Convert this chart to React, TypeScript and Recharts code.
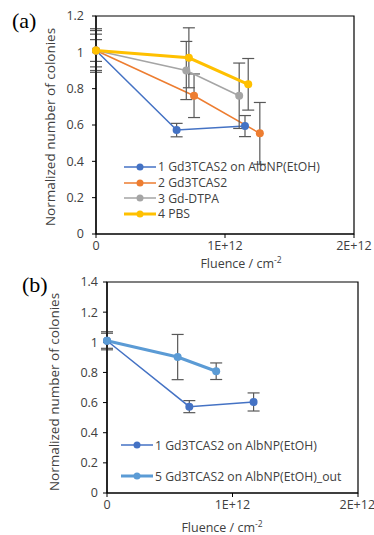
import React from "react";
import { ErrorBar, Line, LineChart, ReferenceArea, XAxis, YAxis } from "recharts";

// panel (a)
const fluenceA1 = [0, 6.25e11, 1.155e12];
const coloniesA1 = [1.01, 0.572, 0.594];
const errA1 = [0.09, 0.037, 0.058];

const fluenceA2 = [0, 7.6e11, 1.27e12];
const coloniesA2 = [1.01, 0.761, 0.554];
const errA2 = [0.06, 0.12, 0.17];

const fluenceA3 = [0, 7.0e11, 1.11e12];
const coloniesA3 = [1.01, 0.9, 0.761];
const errA3 = [0.11, 0.16, 0.18];

const fluenceA4 = [0, 7.2e11, 1.18e12];
const coloniesA4 = [1.01, 0.97, 0.824];
const errA4 = [0.12, 0.165, 0.142];

// panel (b)
const fluenceB1 = [0, 6.56e11, 1.168e12];
const coloniesB1 = [1.01, 0.573, 0.604];
const errB1 = [0.05, 0.04, 0.06];

const fluenceB5 = [0, 5.63e11, 8.7e11];
const coloniesB5 = [1.01, 0.902, 0.808];
const errB5 = [0.06, 0.15, 0.055];

const xTicks = [0, 1e12, 2e12];
const xTickLabels = ["0", "1E+12", "2E+12"];
const yTicksA = [0, 0.2, 0.4, 0.6, 0.8, 1, 1.2];
const yTicksB = [0, 0.2, 0.4, 0.6, 0.8, 1, 1.2, 1.4];

const seriesA = [
  { name: "1 Gd3TCAS2 on AlbNP(EtOH)", color: "#4472c4", width: 1.5, x: fluenceA1, y: coloniesA1, e: errA1 },
  { name: "2 Gd3TCAS2", color: "#ed7d31", width: 1.5, x: fluenceA2, y: coloniesA2, e: errA2 },
  { name: "3 Gd-DTPA", color: "#a5a5a5", width: 1.5, x: fluenceA3, y: coloniesA3, e: errA3 },
  { name: "4 PBS", color: "#ffc000", width: 3, x: fluenceA4, y: coloniesA4, e: errA4 },
];

const seriesB = [
  { name: "1 Gd3TCAS2 on AlbNP(EtOH)", color: "#4472c4", width: 1.5, x: fluenceB1, y: coloniesB1, e: errB1 },
  { name: "5 Gd3TCAS2 on AlbNP(EtOH)_out", color: "#5b9bd5", width: 3, x: fluenceB5, y: coloniesB5, e: errB5 },
];

const toRows = (s: { x: number[]; y: number[]; e: number[] }) =>
  s.x.map((x, i) => ({ fluence: x, value: s.y[i], err: s.e[i] }));

const font = "'Open Sans', sans-serif";
const tick = { fill: "#404040", fontSize: 12.5, fontFamily: font };

function LegendBox({ items, rowGap, left, top }: any) {
  return (
    <div style={{ position: "absolute", left, top, fontFamily: font, fontSize: 12.2, color: "#404040" }}>
      {items.map((s: any) => (
        <div key={s.name} style={{ display: "flex", alignItems: "center", height: rowGap }}>
          <svg width={32} height={10}>
            <line x1={0} x2={32} y1={5} y2={5} stroke={s.color} strokeWidth={s.width} />
            <circle cx={16} cy={5} r={3.5} fill={s.color} />
          </svg>
          <span style={{ marginLeft: 2, whiteSpace: "nowrap" }}>{s.name}</span>
        </div>
      ))}
    </div>
  );
}

const yLabel = (x: number, y: number) => () => (
  <text x={x} y={y} transform={`rotate(-90 ${x} ${y})`} textAnchor="middle" fill="#404040" fontSize={13.5} fontFamily={font}>
    Normalized number of colonies
  </text>
);

const xLabel = (x: number, y: number) => () => (
  <text x={x} y={y} textAnchor="middle" fill="#404040" fontSize={12.5} fontFamily={font}>
    Fluence / cm
    <tspan dy={-5} fontSize={8.5}>-2</tspan>
  </text>
);

function Panel({ series, yMax, yTicks, margin, yWidth, tickGap, xGap, xLab, yLab, height }: any) {
  return (
    <LineChart width={374} height={height} margin={margin}>
      <XAxis
        type="number"
        dataKey="fluence"
        domain={[0, 2e12]}
        ticks={xTicks}
        tickFormatter={(v: number) => xTickLabels[xTicks.indexOf(v)]}
        tick={tick}
        tickSize={4}
        tickMargin={xGap}
        axisLine={{ stroke: "#000", strokeWidth: 1.2 }}
        tickLine={{ stroke: "#000" }}
        height={30}
        allowDuplicatedCategory={false}
        label={{ content: xLabel(xLab[0], xLab[1]) }}
      />
      <YAxis
        type="number"
        domain={[0, yMax]}
        ticks={yTicks}
        tick={tick}
        tickSize={4}
        tickMargin={tickGap}
        width={yWidth}
        axisLine={{ stroke: "#000", strokeWidth: 1.2 }}
        tickLine={{ stroke: "#000" }}
        label={{ content: yLabel(yLab[0], yLab[1]) }}
      />
      <ReferenceArea x1={0} x2={2e12} y1={0} y2={yMax} fill="none" stroke="#000" strokeWidth={1.2} />
      {series.map((s: any) => (
        <Line
          key={s.name}
          data={toRows(s)}
          dataKey="value"
          name={s.name}
          stroke={s.color}
          strokeWidth={s.width}
          dot={{ r: 4, fill: s.color, stroke: s.color, strokeWidth: 0 }}
          isAnimationActive={false}
        >
          <ErrorBar dataKey="err" direction="y" width={6} stroke="#595959" strokeWidth={1.2} />
        </Line>
      ))}
    </LineChart>
  );
}

export default function App() {
  return (
    <div style={{ position: "absolute", left: 0, top: 0, width: 374, height: 535, background: "#fff" }}>
      <div style={{ position: "absolute", left: 0, top: 270 }}>
        <Panel
          series={seriesB}
          yMax={1.4}
          yTicks={yTicksB}
          height={265}
          margin={{ top: 12, right: 16, bottom: 12, left: 67 }}
          yWidth={40}
          tickGap={5}
          xGap={3}
          xLab={[222, 262]}
          yLab={[59, 122]}
        />
      </div>
      <div style={{ position: "absolute", left: 0, top: 0 }}>
        <Panel
          series={seriesA}
          yMax={1.2}
          yTicks={yTicksA}
          height={276}
          margin={{ top: 16, right: 20, bottom: 12, left: 56 }}
          yWidth={40}
          tickGap={8}
          xGap={3}
          xLab={[241, 268]}
          yLab={[55, 127]}
        />
      </div>
      <LegendBox items={seriesA} rowGap={15.7} left={124} top={159} />
      <LegendBox items={seriesB} rowGap={30.7} left={121} top={430} />
      <div style={{ position: "absolute", left: 12, top: 8, fontFamily: "'Liberation Serif', serif", fontSize: 22 }}>(a)</div>
      <div style={{ position: "absolute", left: 22, top: 272, fontFamily: "'Liberation Serif', serif", fontSize: 22 }}>(b)</div>
    </div>
  );
}
